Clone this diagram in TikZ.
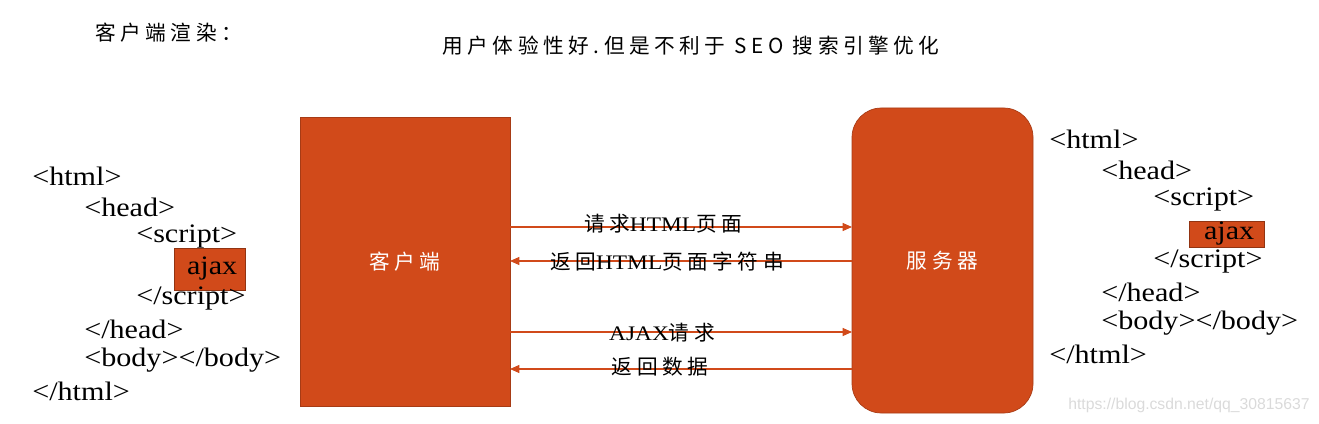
\documentclass[tikz,border=0pt]{standalone}
\usepackage{fontspec}
\setmainfont{Liberation Serif}
\newfontfamily\codefont[FakeStretch=1.13]{Liberation Serif}
\newfontfamily\cjk{Noto Sans CJK SC}
\newfontfamily\cjkw[LetterSpace=22]{Noto Sans CJK SC}
\newfontfamily\wmfont{Liberation Sans}
\usetikzlibrary{arrows.meta}
\definecolor{brick}{HTML}{D14A1A}
\definecolor{wm}{HTML}{DADADA}
\tikzset{
  box/.style={fill=brick,draw=brick!80!black,line width=0.5pt,inner sep=0pt},
  code/.style={anchor=west,inner sep=0pt,font=\codefont\fontsize{20}{24}\selectfont},
  ajaxbox/.style={fill=brick,draw=brick!70!black,line width=0.4pt,inner sep=0pt,font=\codefont\fontsize{20}{24}\selectfont},
  msg/.style={draw=brick,line width=0.8pt,-{Triangle[length=7pt,width=6pt]}},
  lbl/.style={inner sep=0pt,font=\codefont\fontsize{15.5}{19}\selectfont},
  white label/.style={text=white,font=\cjkw\fontsize{15.5}{18}\selectfont}
}
\begin{document}
\begin{tikzpicture}[x=0.75pt,y=-0.75pt]
\useasboundingbox (0,0) rectangle (1319,424);
% titles
\node[inner sep=0pt,anchor=west,font=\cjkw\fontsize{15.5}{18}\selectfont] (title) at (95,33) {客户端渲染：};
\node[inner sep=0pt,font=\cjkw\fontsize{15.5}{18}\selectfont] (sub) at (691,46) {用户体验性好.但是不利于 SEO 搜索引擎优化};
% main boxes
\node[box,minimum width=210*0.75pt,minimum height=289*0.75pt,white label] (client) at (405,261.5) {客户端};
\node[box,rounded corners=22pt,minimum width=181*0.75pt,minimum height=305*0.75pt,white label] (server) at (942.5,260.5) {服务器};
% arrows
\coordinate (c1) at (510,227); \coordinate (s1) at (852,227);
\coordinate (c2) at (510,261); \coordinate (s2) at (852,261);
\coordinate (c3) at (510,332); \coordinate (s3) at (852,332);
\coordinate (c4) at (510,369); \coordinate (s4) at (852,369);
\draw[msg] (c1) -- (s1);
\draw[msg] (s2) -- (c2);
\draw[msg] (c3) -- (s3);
\draw[msg] (s4) -- (c4);
\node[lbl] (l1) at (663,224) {{\cjkw 请求}HTML{\cjkw 页面}};
\node[lbl] (l2) at (667,262) {{\cjkw 返回}HTML{\cjkw 页面字符串}};
\node[lbl] (l3) at (662,333) {AJAX{\cjkw 请求}};
\node[lbl] (l4) at (660,367) {{\cjkw 返回数据}};
% left code
\node[code] (lhtml) at (32,176) {<html>};
\node[code] (lhead) at (84,207) {<head>};
\node[code] (lscript) at (136,237) {<script>};
\node[ajaxbox,minimum width=71*0.75pt,minimum height=42*0.75pt] (lajax) at (209.5,269) {\hspace*{4pt}ajax};
\node[code] (lscripte) at (136,299) {</script>};
\node[code] (lheade) at (84,329) {</head>};
\node[code] (lbody) at (84,360) {<body></body>};
\node[code] (lhtmle) at (32,391) {</html>};
% right code
\node[code] (rhtml) at (1049,139) {<html>};
\node[code] (rhead) at (1101,170) {<head>};
\node[code] (rscript) at (1153,200) {<script>};
\node[ajaxbox,minimum width=75*0.75pt,minimum height=26*0.75pt] (rajax) at (1226.5,234) {\hspace*{4pt}ajax};
\node[code] (rscripte) at (1153,262) {</script>};
\node[code] (rheade) at (1101,292) {</head>};
\node[code] (rbody) at (1101,323) {<body></body>};
\node[code] (rhtmle) at (1049,354) {</html>};
% watermark
\node[inner sep=0pt,anchor=west,text=wm,font=\wmfont\fontsize{11.8}{13}\selectfont] (wmark) at (1068,405) {https://blog.csdn.net/qq\_30815637};
\end{tikzpicture}
\end{document}
